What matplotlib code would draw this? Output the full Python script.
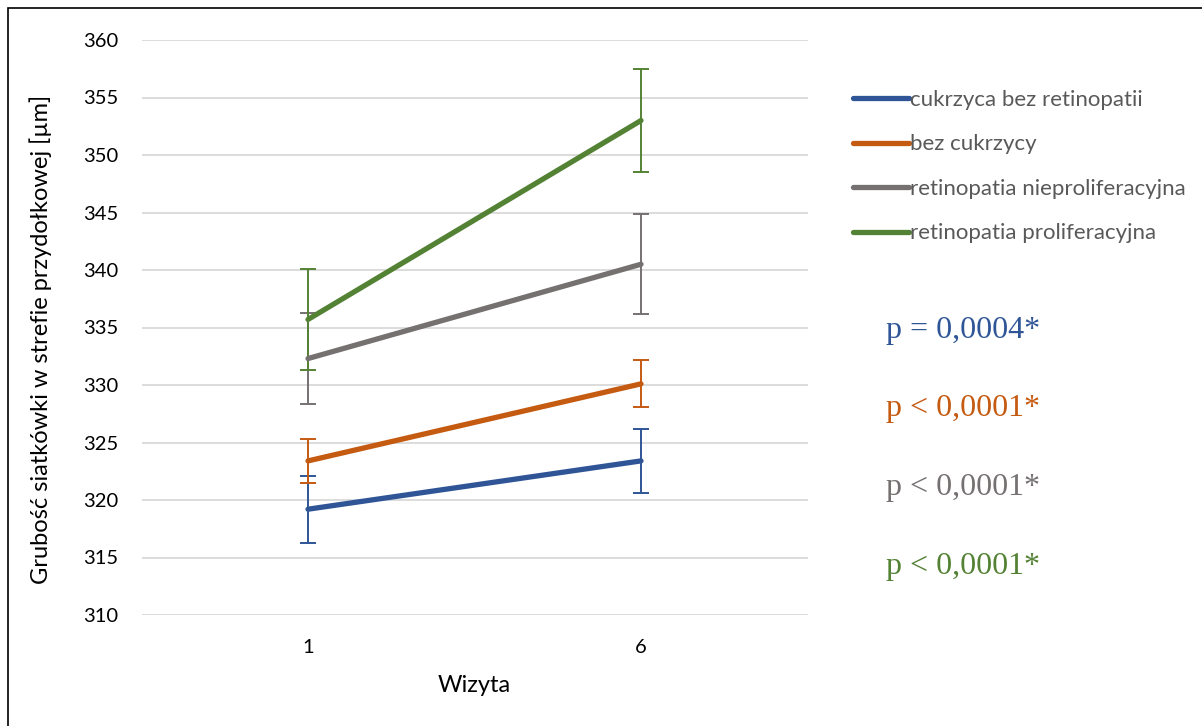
import numpy as np
import matplotlib.pyplot as plt
from matplotlib.patches import Rectangle

# data
visits = ["1", "6"]
series = ["cukrzyca bez retinopatii", "bez cukrzycy",
          "retinopatia nieproliferacyjna", "retinopatia proliferacyjna"]
means = [[319.2, 323.4],
         [323.4, 330.1],
         [332.3, 340.5],
         [335.7, 353.0]]
errs = [[2.9, 2.8],
        [1.9, 2.05],
        [3.95, 4.35],
        [4.4, 4.5]]
pvals = ["p = 0,0004*", "p < 0,0001*", "p < 0,0001*", "p < 0,0001*"]
colors = ["#2F5597", "#C55A11", "#767171", "#548235"]

plt.rcParams['font.family'] = ['Lato', 'DejaVu Sans']

fig = plt.figure(figsize=(12.02, 7.26), dpi=100)
ax = fig.add_axes([141.5/1202, 1-615/726, 666/1202, 575/726])

x = np.arange(len(visits))
for i in range(len(series)):
    ax.errorbar(x, means[i], yerr=errs[i], color=colors[i], lw=3.8,
                elinewidth=1.4, capsize=5.5, capthick=1.4,
                solid_capstyle='round', label=series[i], zorder=3)

ax.set_xlim(-0.5, 1.5)
ax.set_ylim(310, 360)
ax.set_yticks(np.arange(310, 361, 5))
ax.set_xticks(x)
ax.set_xticklabels(visits)
ax.grid(axis='y', color='#D9D9D9', lw=1.3)
ax.set_axisbelow(True)
for s in ax.spines.values():
    s.set_visible(False)
ax.tick_params(length=0, labelsize=14.5, colors='#000000')
ax.tick_params(axis='y', pad=17)
ax.tick_params(axis='x', pad=17)
ax.set_xlabel("Wizyta", fontsize=17, labelpad=14)
ax.set_ylabel("Grubość siatkówki w strefie przydołkowej [µm]", fontsize=17)
ax.yaxis.set_label_coords(-0.134, 0.48)

# legend
leg = fig.legend([plt.Line2D([], [], color=c, lw=3.8, solid_capstyle='round') for c in colors],
                 series, loc='upper left', bbox_to_anchor=(833/1202, 1-70/726),
                 frameon=False, fontsize=16, handlelength=2.5, handletextpad=0.05,
                 labelspacing=1.1, labelcolor='#595959')

# p values
for i, (p, c) in enumerate(zip(pvals, colors)):
    fig.text(886/1202, 1-(330 + i*78.7)/726, p, color=c, fontsize=23,
             family='Liberation Serif', va='center', ha='left')

# outer frame
fig.patches.append(Rectangle((8/1202, -0.01), 1.2, 1-8/726+0.01,
                             transform=fig.transFigure, fill=False,
                             edgecolor='black', lw=1.2))

plt.savefig("out.png", dpi=100)
